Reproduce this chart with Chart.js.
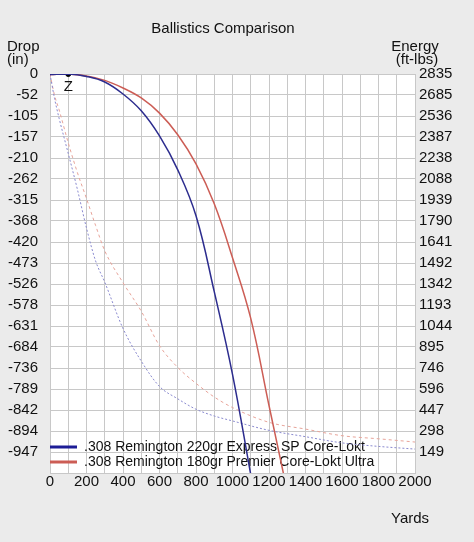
<!DOCTYPE html>
<html lang="en">
<head>
    <meta charset="UTF-8">
    <title>Ballistics Comparison</title>
    <script src="https://cdn.jsdelivr.net/npm/chart.js"></script>
    <style>
        html, body { margin: 0; padding: 0; background: #ebebeb; }
        .chart-container { position: relative; width: 474px; height: 542px; }
    </style>
</head>
<body>
    <div class="chart-container">
        <canvas id="ballisticsChart"></canvas>
    </div>

    <script>
        // Drop curves (inches)
        const dropYards = [0, 100, 200, 300, 400, 500, 600, 700, 800, 900, 1000, 1100, 1200, 1300];
        const drop220 = [-1.5, 0, -6, -20, -50, -92, -155, -240, -355, -545, -752, -1003, null, null];
        const drop180 = [-1.5, 0, -5, -16, -35, -60, -98, -152, -225, -325, -460, -612, -830, -1045];

        // Energy curves (ft-lbs)
        const energyYards = [0, 25, 50, 100, 150, 200, 250, 300, 400, 500, 600, 700, 800, 900, 1000, 1200, 1400, 1600, 1800, 2000];
        const energy220 = [2835, 2660, 2520, 2270, 2016, 1740, 1506, 1356, 1027, 795, 615, 527, 453, 405, 370, 303, 258, 214, 189, 170];
        const energy180 = [2835, 2683, 2580, 2346, 2135, 1950, 1758, 1579, 1352, 1150, 905, 750, 637, 540, 465, 360, 312, 265, 243, 220];

        // Zero range marker
        const zeroYards = [100];
        const zeroDrop = [0];

        // Axis tick labels
        const dropLabels = ['0', '-52', '-105', '-157', '-210', '-262', '-315', '-368', '-420', '-473',
                            '-526', '-578', '-631', '-684', '-736', '-789', '-842', '-894', '-947'];
        const energyLabels = ['2835', '2685', '2536', '2387', '2238', '2088', '1939', '1790', '1641', '1492',
                              '1342', '1193', '1044', '895', '746', '596', '447', '298', '149'];
        const dropBottom = -999;
        const energyTop = 2835;
        const rowCount = 19;

        const names = ['.308 Remington 220gr Express SP Core-Lokt', '.308 Remington 180gr Premier Core-Lokt Ultra'];

        const toPoints = (xs, ys) => xs.map((x, i) => ({ x: x, y: ys[i] }));

        const fontFamily = "'Liberation Sans', Arial, sans-serif";
        Chart.defaults.font.family = fontFamily;
        Chart.defaults.font.size = 15;
        Chart.defaults.color = '#111';

        // Backgrounds, captions, Z label and legend
        const decorations = {
            id: 'decorations',
            beforeDraw(chart) {
                const { ctx, chartArea } = chart;
                ctx.save();
                ctx.fillStyle = '#ebebeb';
                ctx.fillRect(0, 0, chart.width, chart.height);
                ctx.fillStyle = '#ffffff';
                ctx.fillRect(chartArea.left, chartArea.top, chartArea.right - chartArea.left, chartArea.bottom - chartArea.top);
                ctx.restore();
            },
            beforeDatasetsDraw(chart) {
                const { ctx, chartArea } = chart;
                ctx.save();
                ctx.font = '14px ' + fontFamily;
                ctx.textBaseline = 'middle';
                ctx.textAlign = 'left';
                const entries = chart.data.datasets.filter(d => d.inLegend);
                entries.forEach((d, i) => {
                    const y = chartArea.bottom - 26 + i * 15;
                    ctx.strokeStyle = d.legendColor;
                    ctx.lineWidth = 3;
                    ctx.beginPath();
                    ctx.moveTo(chartArea.left, y);
                    ctx.lineTo(chartArea.left + 27, y);
                    ctx.stroke();
                    ctx.fillStyle = '#111';
                    ctx.fillText(d.label, chartArea.left + 34, y);
                });
                ctx.restore();
            },
            afterDraw(chart) {
                const { ctx } = chart;
                ctx.save();
                ctx.fillStyle = '#111';
                ctx.font = '15px ' + fontFamily;
                ctx.textBaseline = 'middle';
                ctx.textAlign = 'center';
                ctx.fillText('Ballistics Comparison', 223, 29);
                ctx.fillText('Z', chart.scales.x.getPixelForValue(zeroYards[0]), chart.scales.y.getPixelForValue(zeroDrop[0]) + 13);
                ctx.fillText('Energy', 415, 47);
                ctx.fillText('(ft-lbs)', 417, 60);
                ctx.textAlign = 'left';
                ctx.fillText('Drop', 7, 47);
                ctx.fillText('(in)', 7, 60);
                ctx.fillText('Yards', 391, 519);
                ctx.restore();
            }
        };

        new Chart(document.getElementById('ballisticsChart'), {
            type: 'line',
            data: {
                datasets: [
                    {
                        label: names[0],
                        data: toPoints(dropYards, drop220),
                        borderColor: '#2c2c8e',
                        legendColor: '#1d1d96',
                        inLegend: true,
                        borderWidth: 1.5,
                        pointRadius: 0,
                        tension: 0.4,
                        yAxisID: 'y'
                    },
                    {
                        label: names[1],
                        data: toPoints(dropYards, drop180),
                        borderColor: '#cc5d55',
                        legendColor: '#cc5d55',
                        inLegend: true,
                        borderWidth: 1.5,
                        pointRadius: 0,
                        tension: 0.4,
                        yAxisID: 'y'
                    },
                    {
                        label: names[0] + ' energy',
                        data: toPoints(energyYards, energy220),
                        borderColor: '#8a8ad0',
                        borderWidth: 1,
                        borderDash: [2, 2],
                        pointRadius: 0,
                        cubicInterpolationMode: 'monotone',
                        yAxisID: 'y2'
                    },
                    {
                        label: names[1] + ' energy',
                        data: toPoints(energyYards, energy180),
                        borderColor: '#e8a49a',
                        borderWidth: 1,
                        borderDash: [3, 3],
                        pointRadius: 0,
                        cubicInterpolationMode: 'monotone',
                        yAxisID: 'y2'
                    },
                    {
                        label: 'Zero',
                        type: 'scatter',
                        data: toPoints(zeroYards, zeroDrop),
                        backgroundColor: '#000',
                        borderColor: '#000',
                        pointRadius: 2.5,
                        showLine: false,
                        yAxisID: 'y'
                    }
                ]
            },
            options: {
                responsive: true,
                maintainAspectRatio: false,
                animation: false,
                layout: { padding: { top: 74, left: 0, right: 0, bottom: 0 } },
                plugins: {
                    legend: { display: false },
                    title: { display: false },
                    tooltip: { enabled: false }
                },
                scales: {
                    x: {
                        type: 'linear',
                        min: 0,
                        max: 2000,
                        grid: { color: '#c8c8c8', drawTicks: false },
                        border: { color: '#c8c8c8' },
                        ticks: {
                            stepSize: 100,
                            autoSkip: false,
                            maxRotation: 0,
                            padding: 0,
                            callback: v => (v % 200 === 0 ? String(v) : '')
                        },
                        afterFit: axis => { axis.height = 69; }
                    },
                    y: {
                        type: 'linear',
                        position: 'left',
                        min: dropBottom,
                        max: 0,
                        grid: { color: '#c8c8c8', drawTicks: false },
                        border: { color: '#c8c8c8' },
                        afterBuildTicks: axis => {
                            const ticks = [];
                            for (let i = 0; i <= rowCount; i++) ticks.push({ value: dropBottom * i / rowCount });
                            axis.ticks = ticks;
                        },
                        ticks: {
                            autoSkip: false,
                            padding: 12,
                            callback: (v, i) => dropLabels[i] ?? ''
                        },
                        afterFit: axis => { axis.width = 50; }
                    },
                    y2: {
                        type: 'linear',
                        position: 'right',
                        min: 0,
                        max: energyTop,
                        grid: { drawOnChartArea: false, drawTicks: false },
                        border: { color: '#c8c8c8' },
                        afterBuildTicks: axis => {
                            const ticks = [];
                            for (let i = 0; i < rowCount; i++) ticks.push({ value: energyTop - energyTop * i / rowCount });
                            axis.ticks = ticks;
                        },
                        ticks: {
                            autoSkip: false,
                            padding: 4,
                            callback: (v, i) => energyLabels[i] ?? ''
                        },
                        afterFit: axis => { axis.width = 59; }
                    }
                }
            },
            plugins: [decorations]
        });
    </script>
</body>
</html>
